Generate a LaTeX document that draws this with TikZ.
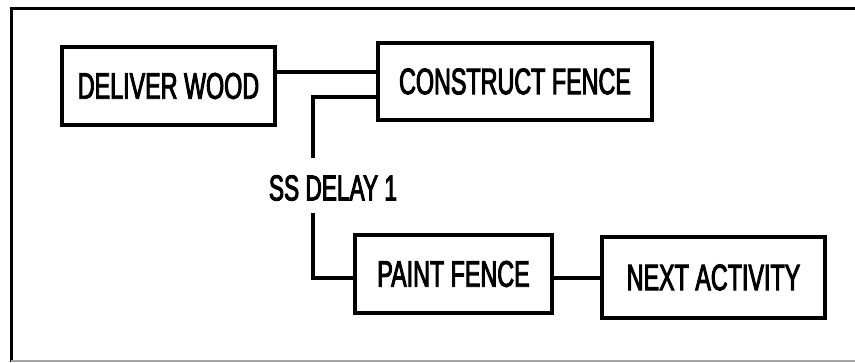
\documentclass[tikz,border=0pt]{standalone}
\usepackage{fontspec}
\setmainfont{Liberation Sans}[FakeStretch=0.63,FakeBold=2.5]
\begin{document}
\begin{tikzpicture}[x=1pt,y=-1pt,
  act/.style={draw,line width=3.5pt,inner sep=0pt,font=\fontsize{37}{42}\selectfont},
  link/.style={line width=3.5pt}]
\useasboundingbox (0,0) rectangle (855,362);
% frame
\draw[line width=3pt] (862,8) -- (11,8) -- (11,362);
\draw[line width=1.5pt,black!35] (11,361) -- (862,361);
% activities
\node[act,minimum width=213pt,minimum height=78pt] (dw) at (168.5,86) {DELIVER WOOD};
\node[act,minimum width=274pt,minimum height=77pt] (cf) at (515,81.5) {CONSTRUCT FENCE};
\node[act,minimum width=197pt,minimum height=78pt] (pf) at (453.5,274) {PAINT FENCE};
\node[act,minimum width=223pt,minimum height=81pt] (na) at (713.5,277.5) {NEXT ACTIVITY};
\node[inner sep=0pt,font=\fontsize{36}{40}\selectfont] (ss) at (333,188) {SS DELAY 1};
% connectors
\coordinate (ssTop) at (313,158);
\coordinate (ssBot) at (313,213);
\draw[link] (dw.east |- 0,72) -- (cf.west |- 0,72);
\draw[link] (cf.west |- 0,97) -| (ssTop);
\draw[link] (ssBot) |- (pf.west |- 0,278);
\draw[link] (pf.east |- 0,278) -- (na.west |- 0,278);
\end{tikzpicture}
\end{document}
